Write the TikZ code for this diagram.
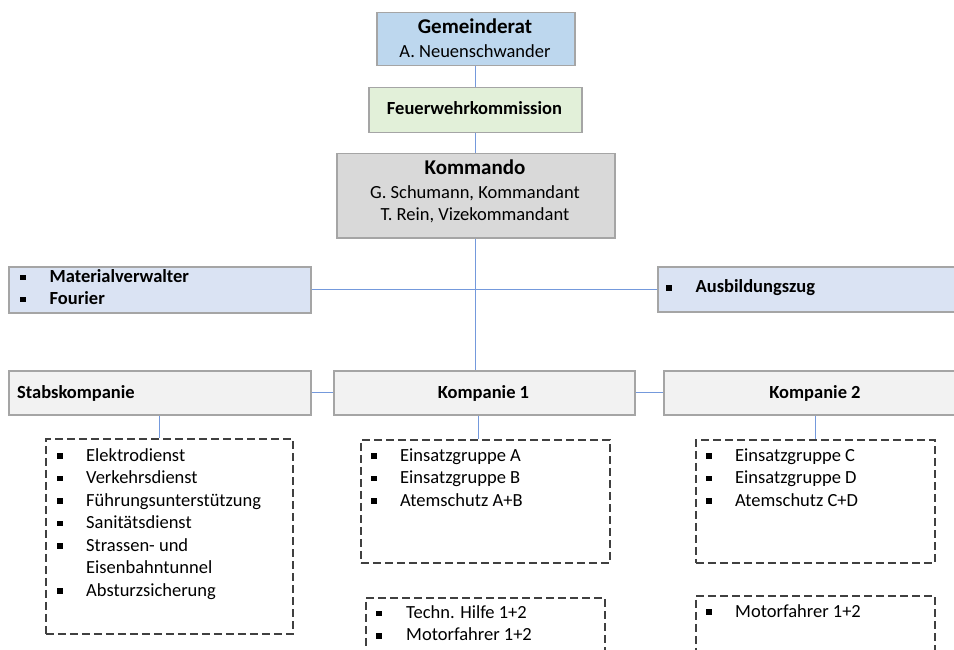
\documentclass[tikz,border=0pt]{standalone}
\usepackage{fontspec}
\setmainfont{Carlito}
\usetikzlibrary{calc}

\definecolor{cgr}{HTML}{BDD7EE}
\definecolor{cfk}{HTML}{E2F0D9}
\definecolor{ckd}{HTML}{D9D9D9}
\definecolor{cmv}{HTML}{DAE3F3}
\definecolor{ckp}{HTML}{F2F2F2}
\definecolor{cbd}{HTML}{A5A5A5}
\definecolor{clink}{HTML}{7499DC}
\definecolor{cdash}{HTML}{404040}

% square bullet and list item with fixed indent
\newcommand\sqb{\rule[0.12em]{5.5pt}{5.5pt}}
\newcommand\itm[1]{\makebox[29pt][l]{\sqb}#1}
\newcommand\itmb[1]{\makebox[29.5pt][l]{\sqb}#1}

\tikzset{
  every node/.style={font=\fontsize{18.5}{22.5}\selectfont},
  box/.style n args={3}{draw=cbd, line width=1.5pt, fill=#1, inner sep=0pt,
    anchor=north west, minimum width=#2, minimum height=#3},
  dbox/.style n args={2}{draw=cdash, line width=1.5pt, dash pattern=on 8pt off 4pt,
    inner sep=0pt, anchor=north west, minimum width=#1, minimum height=#2},
  link/.style={draw=clink, line width=1.3pt},
  lbl/.style={inner sep=0pt, anchor=base},
  lst/.style={inner sep=0pt, anchor=base west},
  title/.style={font=\fontsize{21}{24}\selectfont\bfseries},
  bold/.style={font=\fontsize{18.5}{22}\selectfont\bfseries},
}

\begin{document}
\begin{tikzpicture}[x=1pt, y=-1pt]
\useasboundingbox (0,0) rectangle (954,650);
\clip (0,0) rectangle (954,650);
\fill[white] (0,0) rectangle (954,650);

% management chain
\node[box={cgr}{198pt}{53pt}] (gr) at (376,12) {};
\node[box={cfk}{213pt}{45pt}] (fk) at (368,87) {};
\node[box={ckd}{278pt}{84pt}] (kd) at (336,153) {};

% staff units
\node[box={cmv}{302pt}{46pt}] (mv) at (8,266) {};
\node[box={cmv}{320pt}{45pt}] (az) at (657,266) {};

% companies
\node[box={ckp}{302pt}{44pt}] (sk) at (8,370) {};
\node[box={ckp}{301pt}{44pt}] (k1) at (333,370) {};
\node[box={ckp}{304pt}{44pt}] (k2) at (663,370) {};

% task groups
\node[dbox={247pt}{195pt}] (d1) at (45,438) {};
\node[dbox={249pt}{123pt}] (d2) at (360,439) {};
\node[dbox={239pt}{123pt}] (d3) at (695,439) {};
\node[dbox={239pt}{70pt}] (d4) at (365,597) {};
\node[dbox={239pt}{70pt}] (d5) at (695,595) {};

% connectors
\draw[link] (gr.south) -- (gr.south |- fk.north);
\draw[link] (fk.south) -- (fk.south |- kd.north);
\draw[link] (kd.south) -- (kd.south |- k1.north);
\draw[link] (az.west -| mv.east) -- (az.west);
\draw[link] (sk.east) -- (k1.west);
\draw[link] (k1.east) -- (k2.west);
\draw[link] (sk.south) -- (sk.south |- d1.north);
\draw[link] ([xshift=-6pt]k1.south) -- ([xshift=-6pt]k1.south |- d2.north);
\draw[link] (k2.south) -- (k2.south |- d3.north);

% box texts
\node[lbl, title] (grt) at (475,34) {Gemeinderat};
\node[lbl] (grn) at (475,57.3) {A. Neuenschwander};
\node[lbl, bold] (fkt) at (474.5,115) {Feuerwehrkommission};
\node[lbl, title] (kdt) at (475,175) {Kommando};
\node[lbl] (kdn1) at (475,199) {G. Schumann, Kommandant};
\node[lbl] (kdn2) at (475,220.7) {T. Rein, Vizekommandant};

\node[lst, bold] (mvt) at (20,282.5) {\begin{tabular}[t]{@{}l@{}}\itmb{Materialverwalter}\\ \itmb{Fourier}\end{tabular}};
\node[lst, bold] (azt) at (666,292.8) {\itmb{Ausbildungszug}};

\node[lst, bold] (skt) at (17,398) {Stabskompanie};
\node[lbl, bold] (k1t) at (483.5,398) {Kompanie 1};
\node[lbl, bold] (k2t) at (815,398) {Kompanie 2};

% task group lists
\node[lst] (l1) at (57,461) {\begin{tabular}[t]{@{}l@{}}
  \itm{Elektrodienst}\\
  \itm{Verkehrsdienst}\\
  \itm{Führungsunterstützung}\\
  \itm{Sanitätsdienst}\\
  \itm{Strassen- und}\\
  \hspace{29pt}Eisenbahntunnel\\
  \itm{Absturzsicherung}
\end{tabular}};
\node[lst] (l2) at (371,461) {\begin{tabular}[t]{@{}l@{}}
  \itm{Einsatzgruppe A}\\
  \itm{Einsatzgruppe B}\\
  \itm{Atemschutz A+B}
\end{tabular}};
\node[lst] (l3) at (706,461) {\begin{tabular}[t]{@{}l@{}}
  \itm{Einsatzgruppe C}\\
  \itm{Einsatzgruppe D}\\
  \itm{Atemschutz C+D}
\end{tabular}};
\node[lst] (l4) at (376,618.3) {\begin{tabular}[t]{@{}l@{}}
  \makebox[30pt][l]{\sqb}Techn. Hilfe 1+2\\
  \makebox[30pt][l]{\sqb}Motorfahrer 1+2
\end{tabular}};
\node[lst] (l5) at (706,617) {\itm{Motorfahrer 1+2}};
\end{tikzpicture}
\end{document}
